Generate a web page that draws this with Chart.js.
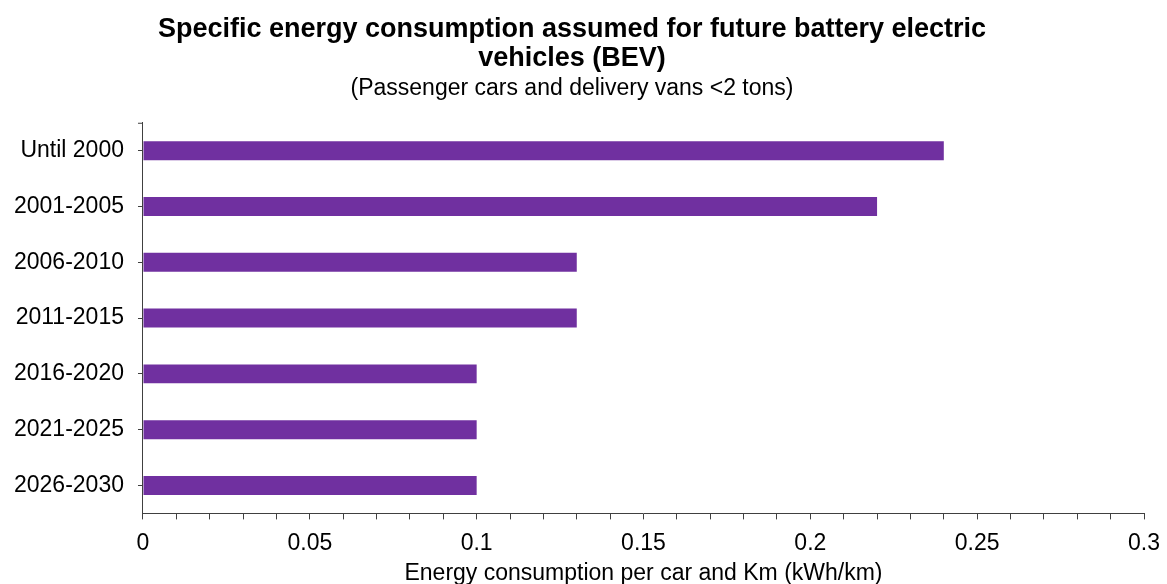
<!DOCTYPE html>
<html>
<head>
<meta charset="utf-8">
<script src="https://cdn.jsdelivr.net/npm/chart.js@4"></script>
<style>
  html, body { margin: 0; padding: 0; background: #fff; }
  #wrap { width: 1167px; height: 584px; }
</style>
</head>
<body>
<div id="wrap"><canvas id="canvas" width="1167" height="584"></canvas></div>
<script>
var periods = ['Until 2000', '2001-2005', '2006-2010', '2011-2015', '2016-2020', '2021-2025', '2026-2030'];
var consumption = [0.24, 0.22, 0.13, 0.13, 0.10, 0.10, 0.10];
var titleLines = ['Specific energy consumption assumed for future battery electric', 'vehicles (BEV)'];
var subtitleText = '(Passenger cars and delivery vans <2 tons)';
var xTitle = 'Energy consumption per car and Km (kWh/km)';

var fontFamily = '"Liberation Sans", Arial, sans-serif';

// little tick at the top end of the category axis
var axisCap = {
  id: 'axisCap',
  afterDraw: function(chart) {
    var ctx = chart.ctx;
    var area = chart.chartArea;
    ctx.save();
    ctx.strokeStyle = '#404040';
    ctx.lineWidth = 1;
    ctx.beginPath();
    ctx.moveTo(area.left - 5, area.top + 0.5);
    ctx.lineTo(area.left, area.top + 0.5);
    ctx.stroke();
    ctx.restore();
  }
};

var ctx = document.getElementById('canvas').getContext('2d');
var chart = new Chart(ctx, {
  type: 'bar',
  data: {
    labels: periods,
    datasets: [{
      data: consumption,
      backgroundColor: '#7030A0',
      barPercentage: 0.34,
      categoryPercentage: 1
    }]
  },
  options: {
    indexAxis: 'y',
    responsive: false,
    animation: false,
    layout: { padding: { left: 0, right: 23, top: 0, bottom: -10 } },
    plugins: {
      legend: { display: false },
      tooltip: { enabled: false },
      title: {
        display: true,
        text: titleLines,
        color: '#000',
        font: { family: fontFamily, size: 27, weight: 'bold', lineHeight: 1.04 },
        padding: { top: 16, bottom: 0 }
      },
      subtitle: {
        display: true,
        text: subtitleText,
        color: '#000',
        font: { family: fontFamily, size: 23, lineHeight: 1.2 },
        padding: { top: 3, bottom: 20 }
      }
    },
    scales: {
      x: {
        min: 0,
        max: 0.3,
        afterFit: function(scale) {
          scale.paddingRight = 0;
        },
        ticks: {
          stepSize: 0.01,
          autoSkip: false,
          maxRotation: 0,
          color: '#000',
          font: { family: fontFamily, size: 23 },
          padding: 10,
          callback: function(v) {
            var n = Math.round(v * 100);
            return n % 5 === 0 ? String(n / 100) : '';
          }
        },
        grid: { drawOnChartArea: false, tickLength: 6, color: '#404040' },
        border: { color: '#404040', width: 1 },
        title: {
          display: true,
          text: xTitle,
          color: '#000',
          font: { family: fontFamily, size: 23, lineHeight: 1.0 },
          padding: { top: -5, bottom: 9 }
        }
      },
      y: {
        ticks: {
          color: '#000',
          font: { family: fontFamily, size: 23 },
          padding: 14
        },
        grid: { drawOnChartArea: false, offset: false, tickLength: 5, color: '#404040' },
        border: { color: '#404040', width: 1 }
      }
    }
  },
  plugins: [axisCap]
});
</script>
</body>
</html>
